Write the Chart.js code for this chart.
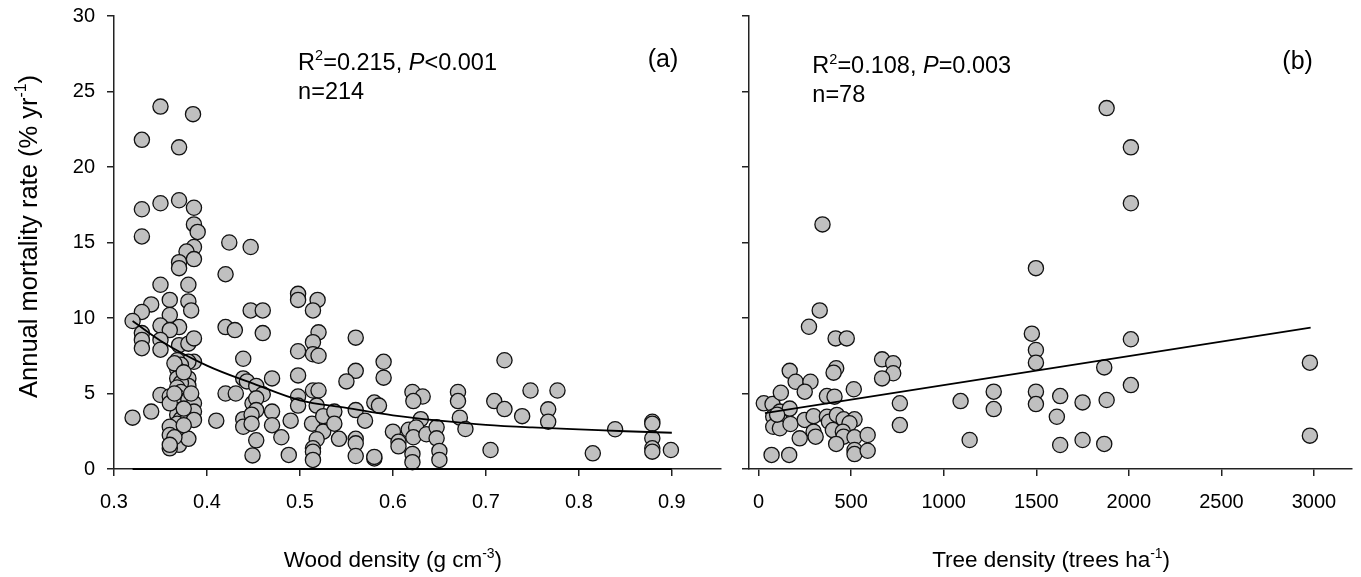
<!DOCTYPE html>
<html>
<head>
<meta charset="utf-8">
<title>Mortality vs wood density and tree density</title>
<script src="https://cdn.jsdelivr.net/npm/chart.js@4.4.1/dist/chart.umd.min.js"></script>
<style>
  body { margin: 0; background: #fff; }
  #wrap { position: relative; width: 1361px; height: 577px; }
  #chartA { position: absolute; left: 0; top: 0; }
  #chartB { position: absolute; left: 730px; top: 0; }
</style>
</head>
<body>
<div id="wrap">
  <canvas id="chartA" width="730" height="577"></canvas>
  <canvas id="chartB" width="631" height="577"></canvas>
</div>
<script>
// panel (a): wood density (g cm-3) vs annual mortality rate (% yr-1)
const woodDensity = [
  0.350, 0.385, 0.330, 0.370, 0.330, 0.350, 0.370, 0.386, 0.386, 0.390,
  0.330, 0.424, 0.447, 0.386, 0.378, 0.386, 0.370, 0.370, 0.420, 0.350,
  0.380, 0.360, 0.380, 0.340, 0.330, 0.360, 0.383, 0.447, 0.460, 0.320,
  0.350, 0.370, 0.420, 0.430, 0.460, 0.330, 0.360, 0.498, 0.498, 0.519,
  0.514, 0.520, 0.330, 0.330, 0.350, 0.350, 0.370, 0.380, 0.386, 0.386,
  0.380, 0.514, 0.498, 0.514, 0.520, 0.560, 0.439, 0.498, 0.470, 0.439,
  0.443, 0.453, 0.460, 0.560, 0.550, 0.590, 0.590, 0.380, 0.380, 0.420,
  0.431, 0.350, 0.360, 0.514, 0.520, 0.621, 0.632, 0.670, 0.720, 0.748,
  0.777, 0.368, 0.372, 0.368, 0.372, 0.368, 0.372, 0.368, 0.372, 0.368,
  0.372, 0.368, 0.372, 0.368, 0.372, 0.368, 0.370, 0.370, 0.380, 0.380,
  0.380, 0.386, 0.386, 0.386, 0.360, 0.360, 0.360, 0.360, 0.340, 0.320,
  0.410, 0.439, 0.439, 0.449, 0.453, 0.453, 0.448, 0.448, 0.453, 0.449,
  0.470, 0.470, 0.480, 0.488, 0.490, 0.498, 0.498, 0.518, 0.513, 0.525,
  0.525, 0.537, 0.537, 0.542, 0.518, 0.514, 0.514, 0.514, 0.560, 0.570,
  0.560, 0.560, 0.560, 0.580, 0.585, 0.580, 0.580, 0.600, 0.606, 0.606,
  0.622, 0.630, 0.617, 0.625, 0.622, 0.636, 0.647, 0.647, 0.650, 0.650,
  0.621, 0.621, 0.670, 0.672, 0.678, 0.705, 0.709, 0.720, 0.739, 0.767,
  0.767, 0.815, 0.839, 0.879, 0.879, 0.879, 0.879, 0.879, 0.899, 0.365,
  0.375, 0.365, 0.375, 0.365, 0.375, 0.383, 0.360
];
const woodMortality = [
  24.0, 23.5, 21.8, 21.3, 17.2, 17.6, 17.8, 17.3, 16.2, 15.7,
  15.4, 15.0, 14.7, 14.7, 14.4, 13.9, 13.7, 13.3, 12.9, 12.2,
  12.2, 11.2, 11.1, 10.9, 10.4, 10.2, 10.5, 10.5, 10.5, 9.8,
  9.5, 9.4, 9.4, 9.2, 9.0, 9.0, 9.2, 11.6, 11.2, 11.2,
  10.5, 9.05, 8.55, 8.0, 8.55, 7.9, 8.2, 8.3, 8.65, 7.1,
  7.1, 8.4, 7.8, 7.6, 7.5, 8.7, 7.3, 6.2, 6.0, 6.0,
  5.8, 5.5, 4.95, 6.5, 5.8, 7.1, 6.05, 6.0, 5.5, 5.0,
  5.0, 4.9, 4.8, 5.2, 5.2, 5.1, 4.8, 5.1, 7.2, 5.2,
  5.2, 7.2, 6.9, 6.6, 6.3, 6.0, 5.7, 5.4, 5.1, 4.8,
  4.5, 4.2, 3.9, 3.6, 3.3, 3.0, 2.6, 1.6, 4.6, 3.5,
  2.0, 4.35, 3.8, 3.25, 4.35, 2.8, 2.25, 1.37, 3.8, 3.4,
  3.2, 3.3, 2.8, 4.35, 4.68, 3.9, 3.6, 3.0, 1.9, 0.9,
  3.8, 2.9, 2.1, 0.93, 3.2, 4.8, 4.2, 4.2, 3.0, 3.5,
  2.47, 3.8, 3.0, 2.0, 1.97, 1.37, 1.15, 0.6, 3.9, 3.2,
  2.0, 1.7, 0.86, 4.4, 4.2, 0.7, 0.8, 2.47, 1.8, 1.5,
  4.5, 3.3, 2.6, 2.75, 2.1, 2.3, 2.76, 2.03, 1.2, 0.6,
  1.0, 0.45, 4.5, 3.4, 2.65, 1.26, 4.5, 3.97, 3.5, 3.95,
  3.13, 1.04, 2.63, 3.13, 3.0, 2.03, 1.37, 1.15, 1.26, 7.0,
  6.4, 5.0, 4.0, 2.1, 2.9, 5.0, 1.6
];
// fitted curve
const woodFitX = [0.32, 0.35, 0.40, 0.45, 0.50, 0.55, 0.60, 0.65, 0.70, 0.75, 0.80, 0.85, 0.90];
const woodFitY = [9.8, 8.5, 6.85, 5.65, 4.55, 4.05, 3.55, 3.2, 2.92, 2.75, 2.63, 2.5, 2.4];
const woodZeroX = [0.32, 0.90];
const woodZeroY = [0, 0];

// panel (b): tree density (trees ha-1) vs annual mortality rate
const treeDensity = [
  28, 75, 115, 79, 115, 79, 115, 172, 168, 120,
  168, 200, 280, 249, 272, 330, 345, 249, 297, 297,
  308, 222, 70, 165, 369, 380, 423, 459, 518, 491,
  401, 455, 459, 419, 518, 589, 518, 518, 589, 416,
  476, 419, 405, 514, 369, 410, 667, 727, 727, 667,
  763, 763, 1091, 1140, 1270, 1270, 1498, 1476, 1498, 1498,
  1498, 1498, 1629, 1750, 1880, 1611, 1629, 1750, 1867, 1867,
  1880, 2011, 2011, 2011, 2011, 2978, 2978, 100
];
const treeMortality = [
  4.35, 4.3, 3.8, 3.46, 3.25, 2.8, 2.7, 2.98, 4.0, 5.05,
  6.5, 5.78, 5.78, 5.12, 9.42, 10.5, 16.2, 3.25, 3.5, 2.47,
  2.14, 2.03, 0.93, 0.93, 3.46, 3.13, 3.58, 3.29, 3.29, 3.03,
  2.58, 2.47, 2.14, 1.66, 2.1, 2.25, 1.26, 0.99, 1.21, 8.65,
  8.65, 6.67, 6.38, 5.28, 4.83, 4.79, 7.26, 7.0, 6.34, 6.0,
  4.35, 2.91, 4.5, 1.92, 5.12, 3.97, 13.3, 8.96, 7.88, 7.04,
  5.12, 4.3, 4.83, 4.41, 4.57, 3.46, 1.59, 1.92, 1.66, 6.73,
  23.9, 21.3, 17.6, 8.59, 5.56, 7.04, 2.21, 3.6
];
const treeFitX = [34, 2982];
const treeFitY = [3.7, 9.36];

// tick labels
const woodTicks = [0.3, 0.4, 0.5, 0.6, 0.7, 0.8, 0.9];
const treeTicks = [0, 500, 1000, 1500, 2000, 2500, 3000];
const rateTicks = [0, 5, 10, 15, 20, 25, 30];

const FONT = 'Arial, "Liberation Sans", Helvetica, sans-serif';

function pairs(xs, ys) {
  return xs.map((v, i) => ({ x: v, y: ys[i] }));
}

// draw text pieces in a row (superscripts / italics)
function drawRuns(ctx, runs, x, y, size, align) {
  let total = 0;
  runs.forEach(r => {
    ctx.font = (r.italic ? 'italic ' : '') + (r.sup ? size * 0.62 : size) + 'px ' + FONT;
    r.w = ctx.measureText(r.t).width;
    total += r.w;
  });
  if (align === 'center') x -= total / 2;
  runs.forEach(r => {
    ctx.font = (r.italic ? 'italic ' : '') + (r.sup ? size * 0.62 : size) + 'px ' + FONT;
    ctx.fillText(r.t, x, r.sup ? y - size * 0.42 : y);
    x += r.w;
  });
}

const textPlugin = {
  id: 'texts',
  afterDraw(chart, args, opts) {
    const ctx = chart.ctx;
    const xs = chart.scales.x, ys = chart.scales.y;
    ctx.save();
    ctx.fillStyle = '#000';
    ctx.textBaseline = 'alphabetic';
    ctx.textAlign = 'left';
    opts.notes.forEach(n => {
      drawRuns(ctx, n.runs, xs.getPixelForValue(n.x), ys.getPixelForValue(n.y), n.size, 'left');
    });
    // x axis title
    drawRuns(ctx, opts.xTitle, xs.getPixelForValue(opts.xTitleAt), 567, 22.5, 'center');
    if (opts.yTitle) {
      ctx.translate(37, (chart.chartArea.top + chart.chartArea.bottom) / 2 - 6);
      ctx.rotate(-Math.PI / 2);
      drawRuns(ctx, opts.yTitle, 0, 0, 25.5, 'center');
    }
    ctx.restore();
  }
};

function xAxis(min, max, list) {
  return {
    type: 'linear', min: min, max: max,
    afterBuildTicks: axis => { axis.ticks = list.map(v => ({ value: v })); },
    afterFit: axis => { axis.height = 108; axis.paddingLeft = 0; axis.paddingRight = 0; },
    grid: { drawOnChartArea: false, drawTicks: true, tickLength: 7, lineWidth: 1.5, color: '#222' },
    border: { display: true, color: '#222', width: 1.5 },
    ticks: { color: '#000', font: { family: FONT, size: 20 }, padding: 14, maxRotation: 0, autoSkip: false,
             callback: v => String(v) }
  };
}

function yAxis(width, showLabels) {
  return {
    type: 'linear', min: 0, max: 30,
    afterBuildTicks: axis => { axis.ticks = rateTicks.map(v => ({ value: v })); },
    afterFit: axis => { axis.width = width; axis.paddingTop = 0; axis.paddingBottom = 0; },
    grid: { drawOnChartArea: false, drawTicks: true, tickLength: 7, lineWidth: 1.5, color: '#222' },
    border: { display: true, color: '#222', width: 1.5 },
    ticks: { display: showLabels, color: '#000', font: { family: FONT, size: 20 }, padding: 12,
             autoSkip: false, callback: v => String(v) }
  };
}

function pointSet(data) {
  return {
    type: 'scatter', data: data, clip: false,
    pointRadius: 7.6, pointHoverRadius: 7.6,
    backgroundColor: '#c0c0c0', borderColor: '#111', pointBorderWidth: 1.3, borderWidth: 1.3
  };
}

function lineSet(data, smooth) {
  return {
    type: 'line', data: data, clip: false, showLine: true,
    pointRadius: 0, borderColor: '#000', borderWidth: 1.8,
    cubicInterpolationMode: smooth ? 'monotone' : 'default', fill: false
  };
}

const common = {
  responsive: false,
  animation: false,
  events: [],
  plugins: { legend: { display: false }, tooltip: { enabled: false } }
};

new Chart(document.getElementById('chartA'), {
  type: 'scatter',
  data: {
    datasets: [
      lineSet(pairs(woodZeroX, woodZeroY), false),
      lineSet(pairs(woodFitX, woodFitY), true),
      pointSet(pairs(woodDensity, woodMortality))
    ]
  },
  options: Object.assign({}, common, {
    layout: { padding: { left: 0, right: 6, top: 16, bottom: 0 } },
    scales: { x: xAxis(0.3, 0.953, woodTicks), y: yAxis(114, true) },
    plugins: Object.assign({}, common.plugins, {
      texts: {
        notes: [
          { x: 0.498, y: 26.4, size: 23.5, runs: [{ t: 'R' }, { t: '2', sup: true }, { t: '=0.215, ' }, { t: 'P', italic: true }, { t: '<0.001' }] },
          { x: 0.498, y: 24.5, size: 23.5, runs: [{ t: 'n=214' }] },
          { x: 0.874, y: 26.6, size: 25, runs: [{ t: '(a)' }] }
        ],
        xTitle: [{ t: 'Wood density (g cm' }, { t: '-3', sup: true }, { t: ')' }],
        xTitleAt: 0.6,
        yTitle: [{ t: 'Annual mortality rate (% yr' }, { t: '-1', sup: true }, { t: ')' }]
      }
    })
  }),
  plugins: [textPlugin]
});

new Chart(document.getElementById('chartB'), {
  type: 'scatter',
  data: {
    datasets: [
      lineSet(pairs(treeFitX, treeFitY), false),
      pointSet(pairs(treeDensity, treeMortality))
    ]
  },
  options: Object.assign({}, common, {
    layout: { padding: { left: 0, right: 6, top: 16, bottom: 0 } },
    scales: { x: xAxis(-52, 3206, treeTicks), y: yAxis(19, false) },
    plugins: Object.assign({}, common.plugins, {
      texts: {
        notes: [
          { x: 290, y: 26.2, size: 23.5, runs: [{ t: 'R' }, { t: '2', sup: true }, { t: '=0.108, ' }, { t: 'P', italic: true }, { t: '=0.003' }] },
          { x: 290, y: 24.3, size: 23.5, runs: [{ t: 'n=78' }] },
          { x: 2829, y: 26.5, size: 25, runs: [{ t: '(b)' }] }
        ],
        xTitle: [{ t: 'Tree density (trees ha' }, { t: '-1', sup: true }, { t: ')' }],
        xTitleAt: 1580,
        yTitle: null
      }
    })
  }),
  plugins: [textPlugin]
});
</script>
</body>
</html>
